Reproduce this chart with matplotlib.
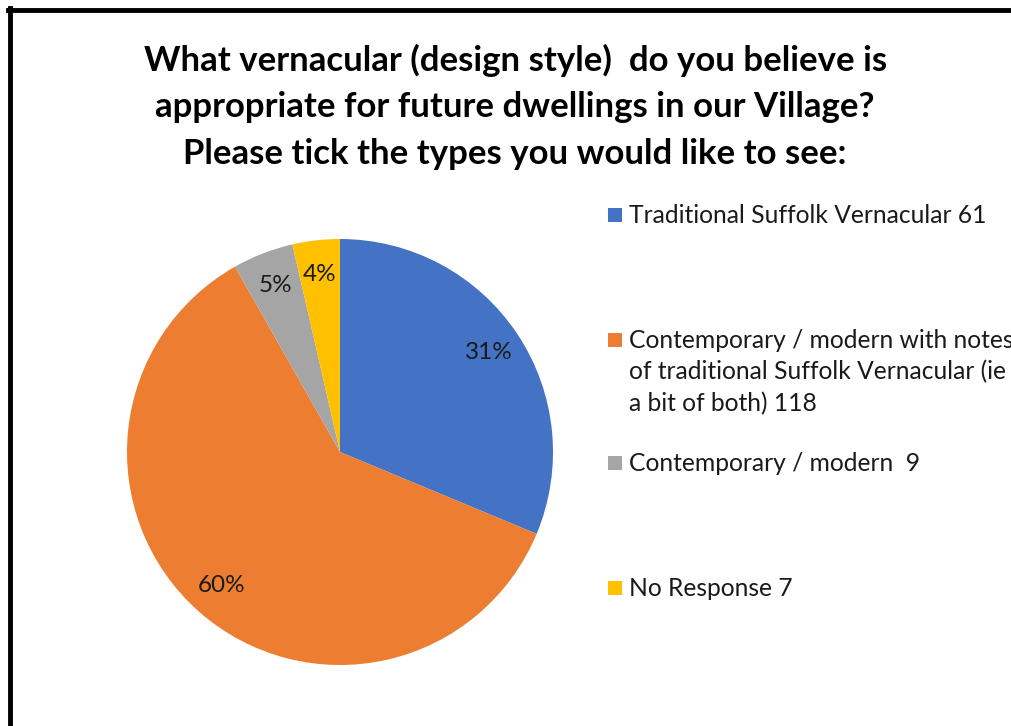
import matplotlib
matplotlib.use("Agg")
import matplotlib.pyplot as plt
from matplotlib.patches import Rectangle
from matplotlib.lines import Line2D
import numpy as np

plt.rcParams['font.family'] = ['Lato', 'DejaVu Sans']

labels = ["Traditional Suffolk Vernacular 61",
          "Contemporary / modern with notes\nof traditional Suffolk Vernacular (ie\na bit of both) 118",
          "Contemporary / modern  9",
          "No Response 7"]
values = [61, 118, 9, 7]
pct_labels = ["31%", "60%", "5%", "4%"]
colors = ["#4472C4", "#ED7D31", "#A5A5A5", "#FFC000"]

W, H = 1012, 726
fig = plt.figure(figsize=(W / 100, H / 100), dpi=100)

# pie centre (340, 452) px, radius 213 px
cx, cy, r = 340, 452, 213
ax = fig.add_axes([(cx - r) / W, (H - cy - r) / H, 2 * r / W, 2 * r / H])
wedges, texts = ax.pie(values, colors=colors, startangle=90, counterclock=False,
                       radius=1, wedgeprops=dict(linewidth=0))
ax.set_xlim(-1, 1)
ax.set_ylim(-1, 1)
ax.set_aspect('equal')

for w, lab in zip(wedges, pct_labels):
    mid = np.deg2rad((w.theta1 + w.theta2) / 2)
    ax.text(0.84 * np.cos(mid), 0.84 * np.sin(mid), lab, ha='center', va='center',
            fontsize=17.5, color='#1a1a1a')

fig.text(0.509, 1 - 44 / H, "What vernacular (design style)  do you believe is\n"
         "appropriate for future dwellings in our Village?\n"
         "Please tick the types you would like to see:",
         ha='center', va='top', fontsize=25, fontweight='bold',
         linespacing=1.55)

# legend drawn by hand
leg_y = [215, 340, 463, 588]
for col, lab, y in zip(colors, labels, leg_y):
    fig.add_artist(Rectangle((608 / W, 1 - (y + 7) / H), 14 / W, 14 / H,
                             facecolor=col, edgecolor='none', transform=fig.transFigure))
    fig.text(629 / W, 1 - (y - 11) / H, lab, ha='left', va='top', fontsize=17.7,
             color='#1a1a1a', linespacing=1.42)

# frame border (top and left visible)
fig.add_artist(Line2D([8 / W, 1.0], [1 - 10 / H, 1 - 10 / H], color='black', lw=3.5,
                      transform=fig.transFigure))
fig.add_artist(Line2D([10 / W, 10 / W], [0, 1 - 8 / H], color='black', lw=3.5,
                      transform=fig.transFigure))

fig.savefig("out.png", dpi=100)
